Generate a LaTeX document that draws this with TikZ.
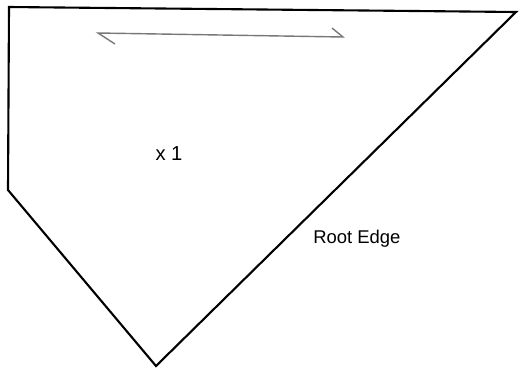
\documentclass[tikz,border=0pt]{standalone}
\usepackage{fontspec}
\setmainfont{Liberation Sans}
\definecolor{edgeblack}{RGB}{0,0,0}
\definecolor{markgray}{RGB}{120,120,120}
\usetikzlibrary{positioning}

\begin{document}
\begin{tikzpicture}[x=0.02cm, y=-0.02cm]
  \useasboundingbox (0,0) rectangle (520,369);
  \draw[edgeblack, line width=1.2pt, line join=miter] (9,7) -- (516,12) -- (156,366) -- (8,190) -- cycle;
  \draw[markgray, line width=0.8pt] (115,44) -- (98,33) -- (343,37) -- (332,28);
  \node[anchor=base, inner sep=0pt, font=\fontsize{11.5}{13}\selectfont] (xone) at (169,160) {x 1};
  \node[anchor=base west, inner sep=0pt, font=\fontsize{10.5}{12}\selectfont] (rootedge) at (313,243) {Root Edge};
\end{tikzpicture}
\end{document}
